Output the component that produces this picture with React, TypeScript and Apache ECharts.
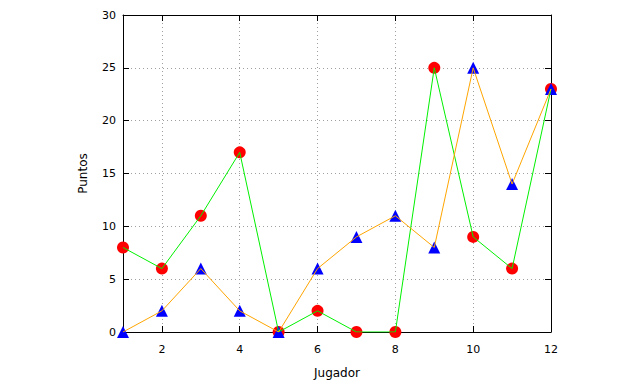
import React, { useEffect, useRef } from "react";
import * as echarts from "echarts";

const jugadores = [1, 2, 3, 4, 5, 6, 7, 8, 9, 10, 11, 12];
const serieRoja = [8, 6, 11, 17, 0, 2, 0, 0, 25, 9, 6, 23];
const serieAzul = [0, 2, 6, 2, 0, 6, 9, 11, 8, 25, 14, 23];
const xTicks = [2, 4, 6, 8, 10, 12];

const FONT = "DejaVu Sans";

export default function App() {
  const ref = useRef<HTMLDivElement>(null);
  useEffect(() => {
    const chart = echarts.init(ref.current!, undefined, { renderer: "svg" });
    const redPts = jugadores.map((x, i) => [x, serieRoja[i]]);
    const bluePts = jugadores.map((x, i) => [x, serieAzul[i]]);
    const labelStyle = { color: "#000", fontFamily: FONT, fontSize: 11 };
    const gridLine = { show: true, lineStyle: { color: "#a0a0a0", type: [1, 3] as any, width: 1 } };
    chart.setOption({
      animation: false,
      backgroundColor: "#fff",
      grid: { left: 123, right: 89, top: 15, bottom: 51 },
      xAxis: [
        {
          type: "value",
          min: 1,
          max: 12,
          position: "bottom",
          name: "Jugador",
          nameLocation: "middle",
          nameGap: 35,
          nameTextStyle: { ...labelStyle, fontSize: 12 },
          axisLine: { show: true, onZero: false, lineStyle: { color: "#000", width: 1 } },
          axisTick: { show: true, inside: true, length: 6, customValues: xTicks, lineStyle: { color: "#000" } },
          axisLabel: { ...labelStyle, margin: 12, customValues: xTicks },
          splitLine: gridLine,
        },
        {
          type: "value",
          min: 1,
          max: 12,
          position: "top",
          axisLine: { show: true, onZero: false, lineStyle: { color: "#000", width: 1 } },
          axisTick: { show: true, inside: true, length: 6, customValues: xTicks, lineStyle: { color: "#000" } },
          axisLabel: { show: false },
          splitLine: { show: false },
        },
      ],
      yAxis: [
        {
          type: "value",
          min: 0,
          max: 30,
          interval: 5,
          position: "left",
          name: "Puntos",
          nameLocation: "middle",
          nameGap: 34,
          nameRotate: 90,
          nameTextStyle: { ...labelStyle, fontSize: 12 },
          axisLine: { show: true, onZero: false, lineStyle: { color: "#000", width: 1 } },
          axisTick: { show: true, inside: true, length: 6, lineStyle: { color: "#000" } },
          axisLabel: { ...labelStyle, margin: 7 },
          splitLine: gridLine,
        },
        {
          type: "value",
          min: 0,
          max: 30,
          interval: 5,
          position: "right",
          axisLine: { show: true, onZero: false, lineStyle: { color: "#000", width: 1 } },
          axisTick: { show: true, inside: true, length: 6, lineStyle: { color: "#000" } },
          axisLabel: { show: false },
          splitLine: { show: false },
        },
      ],
      series: [
        {
          type: "scatter",
          data: redPts,
          symbol: "circle",
          symbolSize: 12,
          itemStyle: { color: "#ff0000", opacity: 1 },
          z: 2,
        },
        {
          type: "scatter",
          data: bluePts,
          symbol: "triangle",
          symbolSize: 12,
          itemStyle: { color: "#0000ff", opacity: 1 },
          z: 3,
        },
        {
          type: "line",
          data: redPts,
          showSymbol: false,
          symbol: "none",
          lineStyle: { color: "#00f000", width: 1 },
          z: 4,
        },
        {
          type: "line",
          data: bluePts,
          showSymbol: false,
          symbol: "none",
          lineStyle: { color: "#ffa500", width: 1 },
          z: 5,
        },
      ],
    });
    return () => chart.dispose();
  }, []);
  return <div ref={ref} style={{ width: 640, height: 384, position: "absolute", left: 0, top: 0 }} />;
}
